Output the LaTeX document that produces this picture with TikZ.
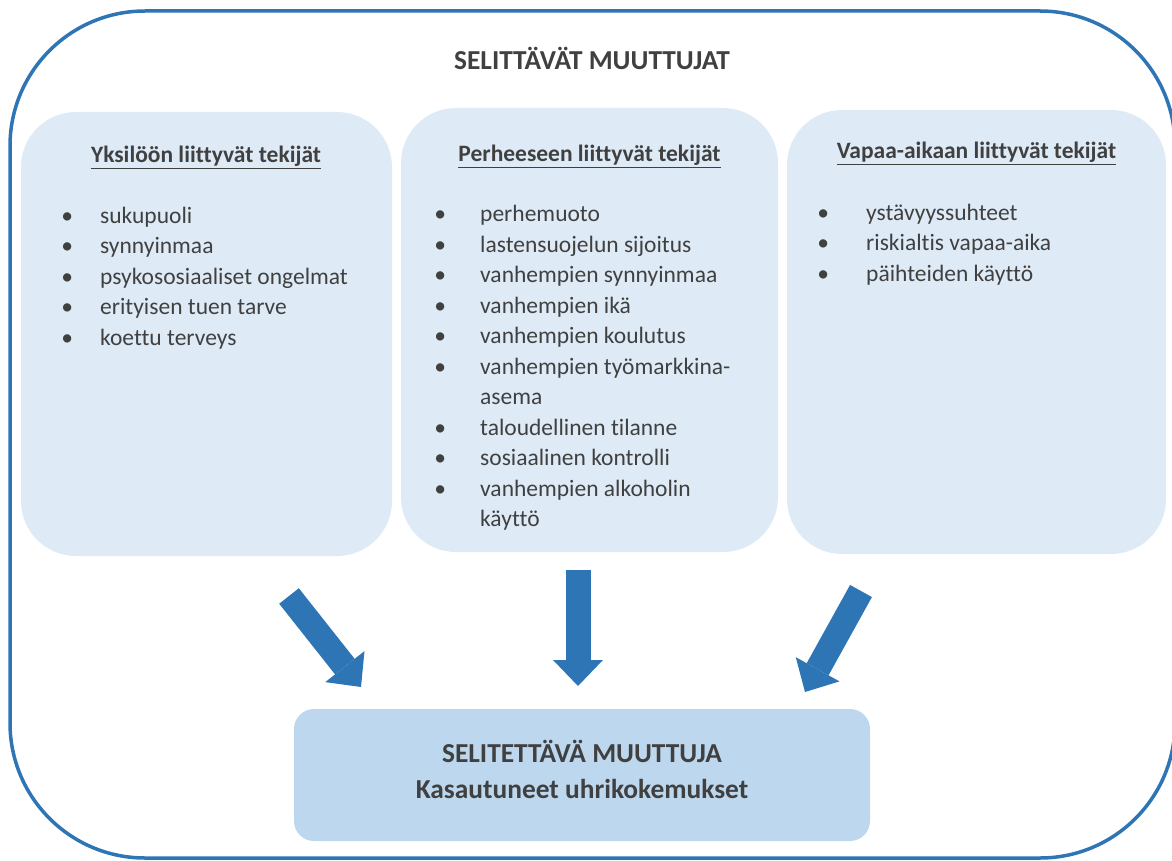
\documentclass[tikz,border=0pt]{standalone}
\usepackage{fontspec}
\setmainfont{Carlito}[Ligatures=NoCommon]
\usetikzlibrary{arrows.meta}
\definecolor{frameblue}{HTML}{2E75B6}
\definecolor{panelfill}{HTML}{DEEBF7}
\definecolor{targetfill}{HTML}{BDD7EE}
\definecolor{textgray}{HTML}{404040}
\newcommand{\bulitem}[1]{\llap{\makebox[0pt]{\textbullet}\hspace{#1}}}

\begin{document}
\begin{tikzpicture}[x=1pt, y=-1pt,
    panel/.style={fill=panelfill, rounded corners=55pt, inner sep=0pt},
    head/.style={anchor=base, text=textgray, inner sep=0pt, font=\fontsize{23.5}{30}\selectfont\bfseries},
    items/.style={anchor=base west, text=textgray, inner sep=0pt, font=\fontsize{23.5}{30.5}\selectfont},
    bigarrow/.style={draw=frameblue, line width=25pt, -{Triangle[length=26pt, width=50pt, line width=0pt]}}]
  \clip (0,0) rectangle (1172,861);
  \draw[frameblue, line width=3.5pt, rounded corners=135pt] (10,11) rectangle (1175,858);
  \node[anchor=base, text=textgray, font=\fontsize{27.4}{33}\selectfont\bfseries] (title) at (592,70) {SELITTÄVÄT MUUTTUJAT};
  % the three groups of factors
  \node[panel, minimum width=371pt, minimum height=444pt] (yks) at (206.5,334) {};
  \node[panel, minimum width=377pt, minimum height=444pt] (per) at (589.5,330) {};
  \node[panel, minimum width=379pt, minimum height=444pt] (vap) at (976.5,332) {};
  \node[head] (yksh) at (206,163) {\underline{Yksilöön liittyvät tekijät}};
  \node[head] (perh) at (589.5,162) {\underline{Perheeseen liittyvät tekijät}};
  \node[head] (vaph) at (976.5,159) {\underline{Vapaa-aikaan liittyvät tekijät}};
  \node[items] (yksi) at (100,223) {\begin{tabular}[t]{@{}l@{}}
      \bulitem{33pt}sukupuoli\\
      \bulitem{33pt}synnyinmaa\\
      \bulitem{33pt}psykososiaaliset ongelmat\\
      \bulitem{33pt}erityisen tuen tarve\\
      \bulitem{33pt}koettu terveys
    \end{tabular}};
  \node[items] (peri) at (480,222) {\begin{tabular}[t]{@{}l@{}}
      \bulitem{40pt}perhemuoto\\
      \bulitem{40pt}lastensuojelun sijoitus\\
      \bulitem{40pt}vanhempien synnyinmaa\\
      \bulitem{40pt}vanhempien ikä\\
      \bulitem{40pt}vanhempien koulutus\\
      \bulitem{40pt}vanhempien työmarkkina-\\
      asema\\
      \bulitem{40pt}taloudellinen tilanne\\
      \bulitem{40pt}sosiaalinen kontrolli\\
      \bulitem{40pt}vanhempien alkoholin\\
      käyttö
    \end{tabular}};
  \node[items] (vapi) at (866,220) {\begin{tabular}[t]{@{}l@{}}
      \bulitem{43pt}ystävyyssuhteet\\
      \bulitem{43pt}riskialtis vapaa-aika\\
      \bulitem{43pt}päihteiden käyttö
    \end{tabular}};
  % outcome
  \node[fill=targetfill, rounded corners=20pt, minimum width=576pt, minimum height=132pt] (target) at (582,775) {};
  \node[align=center, text=textgray, inner sep=0pt, font=\fontsize{27.4}{36}\selectfont\bfseries] (targett) at (582,769)
    {SELITETTÄVÄ MUUTTUJA\\Kasautuneet uhrikokemukset};
  \coordinate (yksa) at (289,596);
  \coordinate (yksb) at (361,687);
  \coordinate (pera) at (578,570);
  \coordinate (perb) at (578,686);
  \coordinate (vapa) at (861,591);
  \coordinate (vapb) at (805,692);
  \draw[bigarrow] (yksa) -- (yksb);
  \draw[bigarrow] (pera) -- (perb);
  \draw[bigarrow] (vapa) -- (vapb);
\end{tikzpicture}
\end{document}
